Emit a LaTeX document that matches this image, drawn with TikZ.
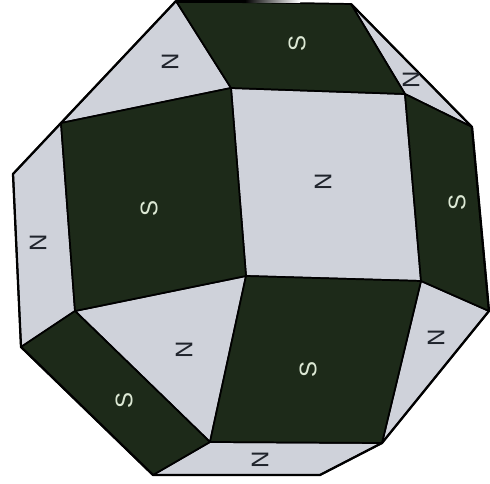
\documentclass[tikz,border=0pt]{standalone}
\usepackage{fontspec}
\setmainfont{Liberation Sans}
\definecolor{darkface}{HTML}{1D2A19}
\definecolor{lightface}{HTML}{CFD2DA}
\definecolor{slabel}{HTML}{DCE8D4}
\definecolor{nlabel}{HTML}{20242C}
\tikzset{
  darkf/.style={fill=darkface,draw=black,line width=1.3pt,line join=round},
  lightf/.style={fill=lightface,draw=black,line width=1.3pt,line join=round},
  nlab/.style={rotate=90,text=nlabel,font=\fontsize{18}{18}\selectfont,inner sep=0pt},
  slab/.style={rotate=90,text=slabel,font=\fontsize{18}{18}\selectfont,inner sep=0pt},
  rim/.style={draw=black,line width=1.7pt,line join=round,fill=none}
}
\begin{document}
\begin{tikzpicture}[x=0.75pt,y=-0.75pt]
\useasboundingbox (0,0) rectangle (490,484);
\coordinate (A) at (176,1);
\coordinate (B) at (351,4);
\coordinate (C) at (231,88);
\coordinate (D) at (405,94);
\coordinate (E) at (472,127);
\coordinate (G) at (489,311);
\coordinate (H) at (421,281);
\coordinate (I) at (382,443);
\coordinate (J) at (320,475);
\coordinate (K) at (153,475);
\coordinate (L) at (210,442);
\coordinate (M) at (75,311);
\coordinate (N) at (21,347);
\coordinate (O) at (13,174);
\coordinate (P) at (61,123);
\coordinate (Q) at (246,276);
% light faces
\draw[lightf] (P)--(A)--(C)--cycle;
\draw[lightf] (B)--(E)--(D)--cycle;
\draw[lightf] (C)--(D)--(H)--(Q)--cycle;
\draw[lightf] (O)--(P)--(M)--(N)--cycle;
\draw[lightf] (M)--(Q)--(L)--cycle;
\draw[lightf] (H)--(G)--(I)--cycle;
\draw[lightf] (L)--(I)--(J)--(K)--cycle;
% dark faces
\draw[darkf] (A)--(B)--(D)--(C)--cycle;
\draw[darkf] (D)--(E)--(G)--(H)--cycle;
\draw[darkf] (P)--(C)--(Q)--(M)--cycle;
\draw[darkf] (Q)--(H)--(I)--(L)--cycle;
\draw[darkf] (M)--(L)--(K)--(N)--cycle;
% outer rim
\draw[rim] (B)--(E)--(G)--(I)--(J)--(K)--(N)--(O)--(P)--(A);
% top edge fading from black to white
\fill[black] (176,0) rectangle (245,3);
\shade[left color=black,right color=white] (245,0) rectangle (300,2.5);
\fill[white] (300,0) rectangle (351,2.5);
% labels
\node[nlab] (n1) at (170,62) {N};
\node[slab] (s1) at (297,44) {S};
\node[nlab] (n2) at (411,80) {N};
\node[slab] (s2) at (457,203) {S};
\node[nlab] (n3) at (323,182) {N};
\node[slab] (s3) at (149,209) {S};
\node[nlab] (n4) at (38,243) {N};
\node[nlab] (n5) at (184,350) {N};
\node[slab] (s4) at (124,400) {S};
\node[slab] (s5) at (308,370) {S};
\node[nlab] (n6) at (436,338) {N};
\node[nlab] (n7) at (260,460) {N};
\end{tikzpicture}
\end{document}
